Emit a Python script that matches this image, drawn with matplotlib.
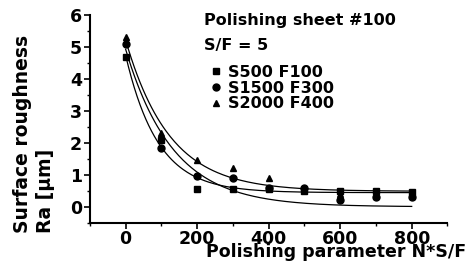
import matplotlib
matplotlib.use('Agg')
import matplotlib.pyplot as plt
from matplotlib.ticker import MultipleLocator
import numpy as np

plt.rcParams['font.family'] = 'DejaVu Sans'
plt.rcParams['font.weight'] = 'bold'

# data
x = [0, 100, 200, 300, 400, 500, 600, 700, 800]
ra_s500 = [4.7, 2.1, 0.55, 0.55, 0.55, 0.5, 0.5, 0.5, 0.45]
ra_s1500 = [5.1, 1.85, 0.95, 0.9, 0.6, 0.6, 0.2, 0.3, 0.3]
ra_s2000 = [5.3, 2.3, 1.45, 1.2, 0.9, 0.6, 0.4, 0.35, 0.35]
labels = ['S500 F100', 'S1500 F300', 'S2000 F400']
markers = ['s', 'o', '^']
fit_offset = [True, False, True]


def exp_fit(xv, yv, offset):
    # y = a*exp(-x/t) (+ c), grid over t, least squares for the rest
    xv = np.asarray(xv, float)
    yv = np.asarray(yv, float)
    best = None
    for t in np.linspace(30, 400, 400):
        cols = [np.exp(-xv / t)]
        if offset:
            cols.append(np.ones_like(xv))
        A = np.column_stack(cols)
        coef = np.linalg.lstsq(A, yv, rcond=None)[0]
        err = np.sum((A @ coef - yv) ** 2)
        if best is None or err < best[0]:
            best = (err, t, coef)
    t, coef = best[1], best[2]
    c = coef[1] if offset else 0.0
    return t, coef[0], c


fig = plt.figure(figsize=(4.73, 2.63), dpi=100)
ax = fig.add_axes([0.190, 0.153, 0.756, 0.790])

xs = np.linspace(0, 800, 200)
for ys, m, lab, off in zip([ra_s500, ra_s1500, ra_s2000], markers, labels, fit_offset):
    ax.plot(x, ys, m, color='k', ms=5, label=lab)
    t, a, c = exp_fit(x, ys, off)
    ax.plot(xs, a * np.exp(-xs / t) + c, color='k', lw=0.9)

ax.set_xlim(-100, 900)
ax.set_ylim(-0.5, 6)
ax.spines['top'].set_visible(False)
ax.spines['right'].set_visible(False)
ax.spines['left'].set_linewidth(1.5)
ax.spines['bottom'].set_linewidth(1.5)
ax.set_xticks([0, 200, 400, 600, 800])
ax.xaxis.set_minor_locator(MultipleLocator(100))
ax.set_yticks([0, 1, 2, 3, 4, 5, 6])
ax.yaxis.set_minor_locator(MultipleLocator(0.5))
ax.tick_params(which='major', length=4, width=1.2, labelsize=12.5, pad=1.5)
ax.tick_params(which='minor', length=2.5, width=1)
for lb in ax.get_xticklabels() + ax.get_yticklabels():
    lb.set_fontweight('bold')

fig.text(0.985, 0.021, 'Polishing parameter N*S/F', ha='right', va='baseline',
         fontsize=12.5, fontweight='bold')
fig.text(0.072, 0.113, 'Surface roughness\nRa [\u00b5m]', rotation=90,
         ha='center', va='bottom', multialignment='left',
         fontsize=13.5, fontweight='bold', linespacing=1.3)

ax.text(0.319, 0.952, 'Polishing sheet #100', transform=ax.transAxes,
        ha='left', va='baseline', fontsize=11.5, fontweight='bold')
ax.text(0.319, 0.832, 'S/F = 5', transform=ax.transAxes,
        ha='left', va='baseline', fontsize=11.5, fontweight='bold')
leg = ax.legend(loc='upper left', bbox_to_anchor=(0.342, 0.76), frameon=False,
                handlelength=0.5, handletextpad=0.5,
                labelspacing=0.05, borderpad=0, borderaxespad=0,
                prop={'weight': 'bold', 'size': 11.5})

fig.savefig('out.png', dpi=100)
